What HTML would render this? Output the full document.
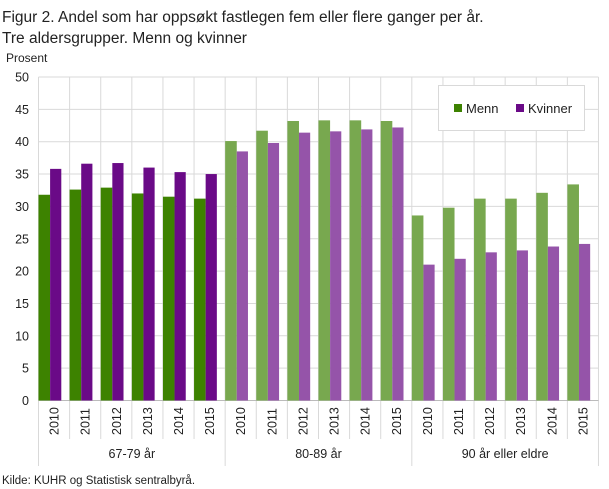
<!DOCTYPE html>
<html><head><meta charset="utf-8"><style>
body{margin:0;background:#fff;}
svg{display:block;font-family:"Liberation Sans",sans-serif;}
</style></head><body>
<svg width="609" height="489" xmlns="http://www.w3.org/2000/svg">
<text x="2" y="22" font-size="15.5" fill="#222">Figur 2. Andel som har oppsøkt fastlegen fem eller flere ganger per år.</text>
<text x="2" y="43" font-size="15.5" fill="#222">Tre aldersgrupper. Menn og kvinner</text>
<text x="6" y="62" font-size="12" fill="#222">Prosent</text>
<g id="grid" stroke="#d9d9d9" stroke-width="1"></g>
<g id="bars"></g>
<g id="lab" font-size="12.5" fill="#222"></g>
<rect x="438.5" y="85.5" width="146" height="45" fill="#fff" stroke="#d9d9d9"/>
<rect x="454" y="104" width="8" height="8" fill="#3d8200"/>
<text x="466" y="113" font-size="13" fill="#222">Menn</text>
<rect x="516" y="104" width="8" height="8" fill="#6a0a87"/>
<text x="528" y="113" font-size="13" fill="#222">Kvinner</text>
<text x="2" y="484" font-size="11.5" fill="#222">Kilde: KUHR og Statistisk sentralbyrå.</text>
<script>
var g=document.getElementById('grid'),b=document.getElementById('bars'),l=document.getElementById('lab');
var NS='http://www.w3.org/2000/svg';
function el(p,t,a,txt){var e=document.createElementNS(NS,t);for(var k in a)e.setAttribute(k,a[k]);if(txt)e.textContent=txt;p.appendChild(e);return e;}
var x0=38.5,sw=31.11,y0=400.5,py=6.47;
for(var v=0;v<=50;v+=5){var y=y0-v*py;el(g,'line',{x1:x0,x2:598.5,y1:y,y2:y});el(l,'text',{x:29,y:y+4.5,'text-anchor':'end'},String(v));}
for(var i=0;i<=18;i++){var x=x0+i*sw;el(g,'line',{x1:x,x2:x,y1:77,y2:400.5});el(g,'line',{x1:x,x2:x,y1:400.5,y2:(i%6==0)?466:439});}
var m=[31.8,32.6,32.9,32.0,31.5,31.2,40.1,41.7,43.2,43.3,43.3,43.2,28.6,29.8,31.2,31.2,32.1,33.4];
var w=[35.8,36.6,36.7,36.0,35.3,35.0,38.5,39.8,41.4,41.6,41.9,42.2,21.0,21.9,22.9,23.2,23.8,24.2];
for(var i=0;i<18;i++){var x=x0+i*sw;var lt=i>=6;
el(b,'rect',{x:x,y:y0-m[i]*py,width:11.6,height:m[i]*py,fill:lt?'#78a84f':'#3d8200'});
el(b,'rect',{x:x+11.6,y:y0-w[i]*py,width:11.2,height:w[i]*py,fill:lt?'#9554a9':'#6a0a87'});
var cx=x+sw/2+4.5;el(l,'text',{x:0,y:0,transform:'translate('+cx+',435) rotate(-90)'},String(2010+i%6));}
var gn=['67-79 år','80-89 år','90 år eller eldre'];
for(var k=0;k<3;k++)el(l,'text',{x:x0+(k*6+3)*sw,y:458,'text-anchor':'middle'},gn[k]);
el(g,'line',{x1:x0,x2:598.5,y1:400.5,y2:400.5,stroke:'#bbb'});
</script>
</svg>
</body></html>
